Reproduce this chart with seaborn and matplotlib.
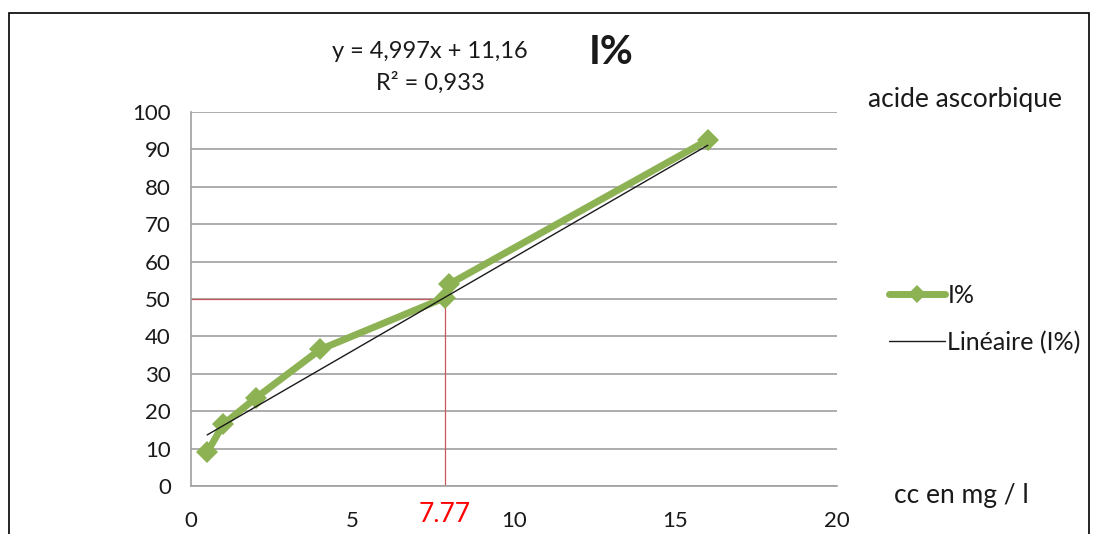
import numpy as np
import pandas as pd
import matplotlib
matplotlib.use("Agg")
import matplotlib.pyplot as plt
from matplotlib.patches import Rectangle
from matplotlib.lines import Line2D
import seaborn as sns

# Inhibition (%) versus ascorbic acid concentration
conc = [0.5, 1, 2, 4, 7.85, 8, 16]
inhib = [9, 16.5, 23.5, 36.5, 50.3, 54, 92.5]

# Linear trend reported on the chart
slope = 4.997
intercept = 11.16
r2 = 0.933

# Read-off at 50 % inhibition
y_target = 50
x_target = 7.77

x_ticks = [0, 5, 10, 15, 20]
y_ticks = list(range(0, 101, 10))

sns.set_style("white")
plt.rcParams["font.family"] = ["Lato", "DejaVu Sans"]

df = pd.DataFrame({"cc": conc, "I%": inhib})

fig = plt.figure(figsize=(10.96, 5.34), dpi=100)
ax = fig.add_axes([0.1743, 0.0899, 0.7637 - 0.1743, 0.7903 - 0.0899])

green = "#8db254"
grid_c = "#a0a0a0"
txt_c = "#1a1a1a"
fs = 16

ax.set_xlim(0, 20)
ax.set_ylim(0, 100)
ax.set_yticks(y_ticks)
ax.set_xticks(x_ticks)
ax.grid(axis="y", color=grid_c, linewidth=1.2)
ax.set_axisbelow(True)

# red read-off lines
ax.plot([0, x_target + 0.1], [y_target, y_target], color="#c8585a", lw=0.9, zorder=2)
ax.plot([x_target + 0.1, x_target + 0.1], [0, y_target], color="#c8585a", lw=0.9, zorder=2)

sns.lineplot(data=df, x="cc", y="I%", ax=ax, color=green, lw=5, marker="D",
             markersize=11, markeredgewidth=0, sort=False, zorder=3, legend=False)

xs = np.array([conc[0], conc[-1]])
ax.plot(xs, slope * xs + intercept, color=txt_c, lw=1.0, zorder=4)

for s in ["top", "right"]:
    ax.spines[s].set_visible(False)
for s in ["left", "bottom"]:
    ax.spines[s].set_color(grid_c)
    ax.spines[s].set_linewidth(1.2)

ax.tick_params(axis="both", direction="out", length=6, width=1.2, color=grid_c,
               labelsize=fs, labelcolor=txt_c)
ax.tick_params(axis="y", pad=8.5)
ax.tick_params(axis="x", pad=12)
ax.set_xlabel("")
ax.set_ylabel("")

# texts
fig.text(430 / 1096, 1 - 52 / 534, f"y = {str(slope).replace('.', ',')}x + {str(intercept).replace('.', ',')}",
         ha="center", va="center", fontsize=17, color=txt_c)
fig.text(430 / 1096, 1 - 83 / 534, f"R² = {str(r2).replace('.', ',')}",
         ha="center", va="center", fontsize=17, color=txt_c)
fig.text(611 / 1096, 1 - 52 / 534, "I%", ha="center", va="center",
         fontsize=29, fontweight="bold", color=txt_c)
fig.text(965 / 1096, 1 - 100 / 534, "acide ascorbique", ha="center", va="center",
         fontsize=19, color=txt_c)
fig.text(961 / 1096, 1 - 495 / 534, "cc en mg / l", ha="center", va="center",
         fontsize=19, color=txt_c)
fig.text(445 / 1096, 1 - 515 / 534, f"{x_target}", ha="center", va="center",
         fontsize=19, color="#ff0000")

# legend
handles = [
    Line2D([], [], color=green, lw=5, marker="D", markersize=9, markeredgewidth=0),
    Line2D([], [], color=txt_c, lw=1.0),
]
fig.legend(handles, ["I%", "Linéaire (I%)"], loc="center left",
           bbox_to_anchor=(866 / 1096, 1 - 319 / 534), frameon=False,
           fontsize=18, handlelength=2.25, handletextpad=0.1, labelspacing=0.95,
           labelcolor=txt_c)

# chart frame
fig.patches.append(Rectangle((9 / 1096, -0.05), (1089 - 9) / 1096, 1.05 - 13 / 534,
                             transform=fig.transFigure, fill=False,
                             edgecolor="black", lw=1.2))

fig.savefig("out.png", dpi=100)
